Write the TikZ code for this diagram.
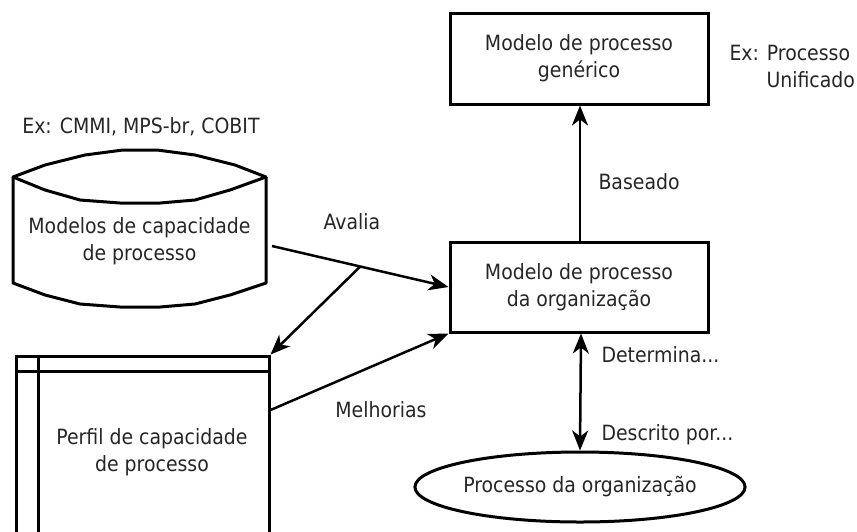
\documentclass[tikz,border=0pt]{standalone}
\usepackage{fontspec}
\setmainfont{DejaVu Sans Condensed}
\usetikzlibrary{shapes.geometric,arrows.meta,calc}

\begin{document}
\begin{tikzpicture}[
    x=1pt, y=-1pt,
    line width=3pt,
    every node/.style={font=\fontsize{21}{27}\selectfont, text=black!85},
    caixa/.style={rectangle, draw=black, align=center, inner sep=0pt, minimum width=258pt},
    seta/.style={-{Stealth[length=20pt,width=16pt,inset=6pt]}, line width=2.5pt},
    rotulo/.style={inner sep=0pt}
    ]
    \useasboundingbox (0,0) rectangle (857,531);
    \clip (0,0) rectangle (857,531);

    % caixas
    \node[caixa, minimum height=91pt] (gen) at (579,58.5) {Modelo de processo\\genérico};
    \node[caixa, minimum height=90pt] (org) at (579,287) {Modelo de processo\\da organização};
    \node[ellipse, draw, minimum width=306pt, minimum height=70pt, inner sep=0pt] (proc) at (580,487) {Processo da organização};
    \node[caixa, minimum width=253pt, minimum height=192pt] (perfil) at (142.5,452)
        {\hspace*{19pt}Perfil de capacidade\\\hspace*{19pt}de processo};
    \draw ([yshift=-17pt]perfil.north west) -- ([yshift=-17pt]perfil.north east);
    \draw ([xshift=24pt]perfil.north west) -- ([xshift=24pt]perfil.south west);

    % cilindro
    \node[align=center] (modcap) at (139.5,241.5) {Modelos de capacidade\\de processo};
    \draw[line join=round] (13,177) -- (45,165) -- (85,155) -- (123,150) -- (157,150) -- (195,155) -- (235,165) -- (266,177)
        -- (230,190) -- (195,200) -- (160,203) -- (120,203) -- (80,200) -- (45,190) -- cycle;
    \draw[line join=round] (13,177) -- (13,283) -- (45,295) -- (80,304) -- (120,307) -- (160,307) -- (195,304) -- (230,295)
        -- (266,283) -- (266,177);

    % rotulos
    \node[rotulo] (excmmi) at (141,127) {Ex: CMMI, MPS-br, COBIT};
    \node[rotulo, anchor=west, align=left] (exup) at (728,66) {Ex: Processo\\\hspace*{37pt}Unificado};
    \node[rotulo] (lavalia) at (352,222) {Avalia};
    \node[rotulo] (lmelhor) at (381,410) {Melhorias};
    \node[rotulo, anchor=west] (lbase) at (597,182) {Baseado};
    \node[rotulo, anchor=west] (ldet) at (600,355) {Determina...};
    \node[rotulo, anchor=west] (ldesc) at (600,435) {Descrito por...};

    % setas
    \coordinate (avini) at (272,246);
    \coordinate (avmeio) at ($(avini)!0.5!(org.west)$);
    \draw[seta] (avini) -- (org.west);
    \draw[seta] (avmeio) -- (perfil.north east);
    \draw[seta] ([yshift=42pt]perfil.east) -- (org.south west);
    \draw[seta] ([xshift=1pt]org.north) -- ([xshift=1pt]gen.south);
    \draw[seta, {Stealth[length=20pt,width=16pt,inset=6pt]}-{Stealth[length=20pt,width=16pt,inset=6pt]}] ([xshift=2pt]org.south) -- (proc.north);
\end{tikzpicture}
\end{document}
